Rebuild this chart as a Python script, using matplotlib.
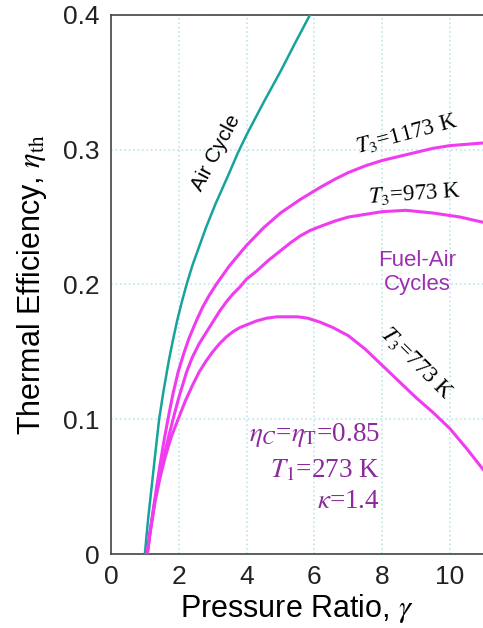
import matplotlib
matplotlib.use("Agg")
import matplotlib.pyplot as plt

plt.rcParams['font.family'] = ['Liberation Sans', 'DejaVu Sans']
plt.rcParams['mathtext.fontset'] = 'stix'

# values
air_r = [1.0, 1.05, 1.1, 1.2, 1.3, 1.42, 1.55, 1.71, 1.83, 1.95, 2.1, 2.23, 2.4, 2.6, 2.8,
         3.07, 3.3, 3.51, 3.75, 4.0, 4.5, 5.0, 5.45, 5.87]
air_eta = [0, 0.014, 0.027, 0.05, 0.073, 0.1, 0.121, 0.144, 0.159, 0.173, 0.188, 0.2, 0.214,
           0.228, 0.242, 0.259, 0.272, 0.284, 0.298, 0.311, 0.335, 0.358, 0.38, 0.4]

t1173_r = [1.07, 1.15, 1.3, 1.42, 1.55, 1.68, 1.83, 1.98, 2.15, 2.3, 2.5, 2.7, 2.9, 3.13, 3.5,
           4.0, 4.5, 5.0, 5.58, 6.17, 6.6, 7.0, 7.5, 8.0, 8.5, 9.0, 9.5, 10.0, 10.5, 11.0]
t1173_eta = [0, 0.016, 0.042, 0.062, 0.082, 0.1, 0.119, 0.135, 0.149, 0.16, 0.172, 0.183,
             0.192, 0.201, 0.214, 0.229, 0.242, 0.253, 0.263, 0.272, 0.278, 0.283, 0.288,
             0.292, 0.295, 0.298, 0.301, 0.303, 0.304, 0.305]

t973_r = [1.07, 1.15, 1.3, 1.42, 1.55, 1.68, 1.83, 2.0, 2.23, 2.4, 2.6, 2.8, 3.0, 3.2, 3.4,
          3.6, 3.8, 4.0, 4.3, 4.65, 5.0, 5.3, 5.58, 5.87, 6.17, 6.6, 7.0, 7.5, 8.0, 8.7,
          9.5, 10.3, 11.0]
t973_eta = [0, 0.016, 0.04, 0.055, 0.071, 0.085, 0.1, 0.116, 0.135, 0.146, 0.156, 0.164,
            0.172, 0.18, 0.187, 0.193, 0.198, 0.204, 0.21, 0.218, 0.225, 0.231, 0.236, 0.24,
            0.243, 0.247, 0.25, 0.252, 0.254, 0.255, 0.253, 0.25, 0.246]

t773_r = [1.07, 1.15, 1.3, 1.45, 1.6, 1.78, 1.98, 2.2, 2.42, 2.6, 2.8, 3.0, 3.2, 3.4, 3.6,
          3.8, 4.0, 4.3, 4.6, 4.9, 5.2, 5.5, 5.8, 6.17, 6.55, 7.0, 7.5, 8.0, 8.5, 9.0, 9.5,
          10.0, 10.5, 11.0]
t773_eta = [0, 0.015, 0.039, 0.057, 0.072, 0.087, 0.1, 0.114, 0.126, 0.135, 0.143, 0.15,
            0.156, 0.161, 0.165, 0.168, 0.17, 0.173, 0.175, 0.176, 0.176, 0.176, 0.175,
            0.172, 0.168, 0.162, 0.152, 0.14, 0.128, 0.116, 0.105, 0.093, 0.078, 0.062]

x_ticks = [0, 2, 4, 6, 8, 10]
y_ticks = [0, 0.1, 0.2, 0.3, 0.4]
y_tick_labels = ["0", "0.1", "0.2", "0.3", "0.4"]

teal = "#16a39c"
magenta = "#f03cf0"
purple = "#9a30b0"
param_col = "#8a2a9c"

fig = plt.figure(figsize=(4.83, 6.28), dpi=100)
ax = fig.add_axes([0.2298, 0.1178, 0.772, 0.8585])

ax.plot(air_r, air_eta, color=teal, lw=1.8, zorder=3, solid_joinstyle="round")
for r, eta in [(t1173_r, t1173_eta), (t973_r, t973_eta), (t773_r, t773_eta)]:
    ax.plot(r, eta, color=magenta, lw=2.2, zorder=3, solid_joinstyle="round")

ax.set_xlim(0, 11)
ax.set_ylim(0, 0.4)
ax.set_xticks(x_ticks)
ax.set_yticks(y_ticks)
ax.set_yticklabels(y_tick_labels)
ax.tick_params(length=0, labelsize=19, pad=8, colors="#222222")
ax.grid(True, color="#bfe5ea", ls=":", lw=1.2)
ax.set_axisbelow(True)
for s in ["left", "bottom", "top"]:
    ax.spines[s].set_color("#444444")
    ax.spines[s].set_linewidth(1.2)
ax.spines["right"].set_visible(False)

ax.set_xlabel(r"Pressure Ratio, $\gamma$", fontsize=22, labelpad=2)
ax.set_ylabel(r"Thermal Efficiency, $\eta_{\rm th}$", fontsize=22, labelpad=10)

ax.text(3.1, 0.298, "Air Cycle", rotation=62, fontsize=15, ha="center", va="center")
ax.text(8.73, 0.312, r"$T_3$=1173 K", rotation=15, fontsize=16.5, ha="center", va="center",
        family="Liberation Serif")
ax.text(8.97, 0.267, r"$T_3$=973 K", rotation=4, fontsize=16.5, ha="center", va="center",
        family="Liberation Serif")
ax.text(9.03, 0.142, r"$T_3$=773 K", rotation=-45, fontsize=16.5, ha="center", va="center",
        family="Liberation Serif")
ax.text(9.03, 0.209, "Fuel-Air\nCycles", color=purple, fontsize=16, ha="center", va="center",
        linespacing=1.2)
ax.text(7.94, 0.088, r"$\eta_C$=$\eta_{\rm T}$=0.85", color=param_col, fontsize=19.5,
        ha="right", va="center", family="Liberation Serif")
ax.text(7.94, 0.062, r"$T_1$=273 K", color=param_col, fontsize=19.5,
        ha="right", va="center", family="Liberation Serif")
ax.text(7.94, 0.039, r"$\kappa$=1.4", color=param_col, fontsize=19.5,
        ha="right", va="center", family="Liberation Serif")

plt.savefig("out.png", dpi=100)
